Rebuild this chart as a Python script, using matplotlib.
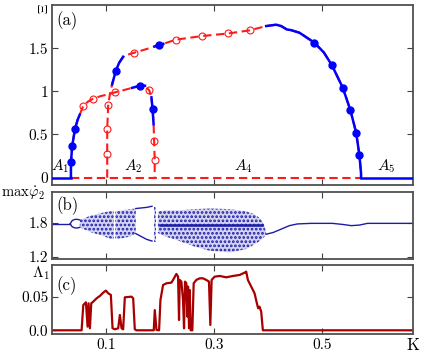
import numpy as np
import matplotlib.pyplot as plt

plt.rcParams['font.family'] = 'cmr10'
plt.rcParams['mathtext.fontset'] = 'cm'
plt.rcParams['axes.formatter.use_mathtext'] = True
plt.rcParams['hatch.linewidth'] = 1.3

BLUE = '#0000ff'
RED = '#ff1a1a'
NAVY = '#1c1ca8'
DRED = '#a80000'

# ---- (a) amplitude Xi of the two branches ----
k_low = [0.0346, 0.0346, 0.0370, 0.0420, 0.0470, 0.0510, 0.0574, 0.0660, 0.0759, 0.0900,
         0.1070, 0.1170, 0.1300, 0.1480, 0.1630, 0.1720, 0.1800, 0.1840, 0.1860, 0.1880,
         0.1890, 0.1900, 0.1900]
xi_low = [0.00, 0.18, 0.37, 0.56, 0.67, 0.73, 0.83, 0.88, 0.915, 0.945,
          0.97, 0.99, 1.01, 1.04, 1.066, 1.065, 1.01, 0.93, 0.80, 0.62,
          0.43, 0.21, 0.00]
stable_low = [(0, 5), (13, 15), (17, 19)]
dots_low = [1, 2, 3, 14, 18]
circ_low = [6, 8, 11, 16, 20, 21]

k_up = [0.1019, 0.1019, 0.1019, 0.1037, 0.1070, 0.1110, 0.1180, 0.1240, 0.1315, 0.1400,
        0.1520, 0.1750, 0.1900, 0.1980, 0.2060, 0.2290, 0.2770, 0.3260, 0.3660, 0.3970,
        0.4155, 0.4248, 0.4352, 0.4430, 0.4587, 0.4710, 0.4865, 0.5040, 0.5190, 0.5390,
        0.5530, 0.5640, 0.5700, 0.5730, 0.5730]
xi_up = [0.00, 0.275, 0.56, 0.84, 0.97, 1.08, 1.24, 1.33, 1.40, 1.425,
         1.447, 1.49, 1.52, 1.535, 1.55, 1.598, 1.64, 1.67, 1.706, 1.756,
         1.772, 1.756, 1.717, 1.709, 1.679, 1.628, 1.563, 1.45, 1.302, 1.043,
         0.787, 0.52, 0.26, 0.05, 0.00]
stable_up = [(5, 8), (12, 14), (19, 34)]
dots_up = [6, 13, 26, 28, 29, 30, 31, 32]
circ_up = [1, 2, 3, 10, 15, 16, 17, 18]

k_zero = [0.0, 0.0346, 0.5730, 0.67]

# ---- (b) max of phi2 dot ----
k_b_left = [0.0, 0.033]
v_b_left = [1.78, 1.78]
k_bub = [0.033, 0.037, 0.042, 0.047, 0.051]
bub_top = [1.78, 1.84, 1.86, 1.86, 1.85]
bub_bot = [1.78, 1.73, 1.71, 1.71, 1.72]
k_c1 = [0.051, 0.070, 0.090, 0.105, 0.114]
c1_top = [1.85, 1.92, 1.97, 2.00, 2.01]
c1_bot = [1.72, 1.64, 1.58, 1.53, 1.51]
k_c2 = [0.117, 0.130, 0.145, 0.155]
c2_top = [2.00, 2.02, 2.04, 2.05]
c2_bot = [1.52, 1.53, 1.56, 1.61]
k_p2 = [0.155, 0.165, 0.175, 0.185]
p2_top = [2.05, 2.06, 2.07, 2.09]
p2_bot = [1.61, 1.56, 1.51, 1.48]
k_col = [0.188, 0.192]
col_top = [2.08, 2.08]
col_bot = [1.47, 1.47]
k_c3 = [0.196, 0.210, 0.236, 0.265, 0.292, 0.330, 0.360, 0.375, 0.385, 0.393, 0.397]
c3_top = [2.00, 2.02, 2.02, 2.04, 2.05, 2.04, 2.00, 1.95, 1.88, 1.78, 1.62]
c3_bot = [1.62, 1.56, 1.48, 1.38, 1.31, 1.28, 1.34, 1.42, 1.48, 1.55, 1.60]
k_band = [0.200, 0.390]
v_band = [1.77, 1.77]
k_b_right = [0.397, 0.410, 0.425, 0.440, 0.455, 0.480, 0.520, 0.540, 0.555, 0.570, 0.585, 0.670]
v_b_right = [1.60, 1.63, 1.69, 1.75, 1.78, 1.79, 1.79, 1.77, 1.75, 1.76, 1.79, 1.79]

# ---- (c) largest Lyapunov exponent ----
k_lam = [0.0, 0.0544, 0.0575, 0.0624, 0.0655, 0.0673, 0.0698, 0.0723, 0.0760, 0.0822,
         0.0883, 0.0945, 0.0994, 0.1038, 0.1087, 0.1118, 0.1161, 0.1223, 0.1254, 0.1285,
         0.1315, 0.1346, 0.1470, 0.1501, 0.1531, 0.1562, 0.1883, 0.1902, 0.1933, 0.1982,
         0.2007, 0.2056, 0.2118, 0.2210, 0.2241, 0.2303, 0.2334, 0.2352, 0.2365, 0.2396,
         0.2426, 0.2445, 0.2463, 0.2488, 0.2507, 0.2519, 0.2538, 0.2550, 0.2569, 0.2599,
         0.2624, 0.2673, 0.2735, 0.2797, 0.2858, 0.2908, 0.2933, 0.2957, 0.3013, 0.3106,
         0.3229, 0.3352, 0.3476, 0.3569, 0.3599, 0.3630, 0.3692, 0.3754, 0.3797, 0.3821,
         0.3846, 0.3877, 0.3908, 0.67]
lam = [0.0, 0.0, 0.0376, 0.0416, 0.0054, 0.0401, 0.0030, 0.0401, 0.0426, 0.0475,
       0.0510, 0.0560, 0.0590, 0.0550, 0.0525, 0.0030, 0.0015, 0.0030, 0.0228, 0.0030,
       0.0015, 0.0490, 0.0500, 0.0475, 0.0015, 0.0, 0.0, 0.0300, 0.0005, 0.0,
       0.0450, 0.0673, 0.0698, 0.0708, 0.0748, 0.0837, 0.0797, 0.0153, 0.0748, 0.0723,
       0.0450, 0.0030, 0.0723, 0.0698, 0.0203, 0.0649, 0.0030, 0.0599, 0.0, 0.0,
       0.0698, 0.0748, 0.0772, 0.0772, 0.0748, 0.0723, 0.0079, 0.0748, 0.0797, 0.0807,
       0.0787, 0.0807, 0.0822, 0.0856, 0.0871, 0.0748, 0.0649, 0.0549, 0.0401, 0.0327,
       0.0351, 0.0277, 0.0, 0.0]

fig = plt.figure(figsize=(4.36, 3.52), dpi=100)
W, H = 436.0, 352.0
x0, x1 = 52.3, 413.3
axa = fig.add_axes([x0 / W, 1 - 185 / H, (x1 - x0) / W, 180 / H])
axb = fig.add_axes([x0 / W, 1 - 259 / H, (x1 - x0) / W, 67 / H])
axc = fig.add_axes([x0 / W, 1 - 334 / H, (x1 - x0) / W, 69 / H])


def draw_branch(ax, k, xi, stable, dots, circ):
    k = np.array(k)
    xi = np.array(xi)
    ax.plot(k, xi, color=RED, lw=1.5, dashes=(4, 2.2), zorder=2)
    for a, b in stable:
        ax.plot(k[a:b + 1], xi[a:b + 1], color=BLUE, lw=1.8, zorder=3)
    ax.plot(k[dots], xi[dots], 'o', color=BLUE, ms=5, zorder=4)
    ax.plot(k[circ], xi[circ], 'o', mfc='none', mec=RED, mew=0.8, ms=5, zorder=4)


ax = axa
ax.plot(k_zero[0:2], [0, 0], color=BLUE, lw=1.8, zorder=3)
ax.plot(k_zero[1:3], [0, 0], color=RED, lw=1.5, dashes=(4, 2.2), zorder=2)
ax.plot(k_zero[2:4], [0, 0], color=BLUE, lw=1.8, zorder=3)
draw_branch(ax, k_low, xi_low, stable_low, dots_low, circ_low)
draw_branch(ax, k_up, xi_up, stable_up, dots_up, circ_up)
ax.set_ylim(-0.085, 2.0)
ax.set_yticks([0, 0.5, 1, 1.5])
ax.set_yticklabels(['0', '0.5', '1', '1.5'])
for s, xx in [('$A_1$', -0.002), ('$A_2$', 0.133), ('$A_4$', 0.338), ('$A_5$', 0.602)]:
    ax.text(xx, 0.03, s, fontsize=11, ha='left', va='bottom', zorder=6)
ax.text(0.012, 0.965, '(a)', transform=ax.transAxes, fontsize=12, va='top')

ax = axb
ax.plot(k_b_left, v_b_left, color=NAVY, lw=1.0)
ax.plot(k_bub, bub_top, color=NAVY, lw=1.0)
ax.plot(k_bub, bub_bot, color=NAVY, lw=1.0)
for kk, tt, bb in [(k_c1, c1_top, c1_bot), (k_c2, c2_top, c2_bot),
                   (k_col, col_top, col_bot), (k_c3, c3_top, c3_bot)]:
    ax.fill_between(kk, bb, tt, facecolor='#d4d4f2', edgecolor=NAVY, hatch='....', lw=0)
ax.plot(k_p2, p2_top, color=NAVY, lw=1.0)
ax.plot(k_p2, p2_bot, color=NAVY, lw=1.0)
ax.plot(k_band, v_band, color=NAVY, lw=1.8)
ax.plot(k_b_right, v_b_right, color=NAVY, lw=1.0)
ax.set_ylim(1.165, 2.34)
ax.set_yticks([1.2, 1.8])
ax.set_yticklabels(['1.2', '1.8'])
ax.text(0.012, 0.93, '(b)', transform=ax.transAxes, fontsize=12, va='top')

ax = axc
ax.plot(k_lam, lam, color=DRED, lw=1.6)
ax.set_ylim(-0.0055, 0.097)
ax.set_yticks([0.0, 0.05])
ax.set_yticklabels(['0.0', '0.05'])
ax.text(0.012, 0.83, '(c)', transform=ax.transAxes, fontsize=12, va='top')

for ax in (axa, axb, axc):
    ax.set_xlim(0, 0.67)
    ax.set_xticks([0.1, 0.3, 0.5])
    ax.tick_params(direction='in', top=True, right=True, length=4, width=0.8,
                   labelsize=11, colors='#404040', labelcolor='black', pad=3)
    for sp in ax.spines.values():
        sp.set_color('#505050')
        sp.set_linewidth(1.3)
axa.set_xticklabels([])
axb.set_xticklabels([])
axc.set_xticklabels(['0.1', '0.3', '0.5'])

fig.text(44 / W, 1 - 9 / H, r'$\Xi$', rotation=90, fontsize=10, ha='center', va='center')
fig.text(45 / W, 1 - 193 / H, r'$\max\dot{\varphi}_2$', fontsize=10.5, ha='right', va='center')
fig.text(50 / W, 1 - 273 / H, r'$\Lambda_1$', fontsize=11, ha='right', va='center')
fig.text(413 / W, 1 - 345 / H, 'K', fontsize=12, ha='center', va='center')

fig.savefig('out.png', dpi=100)
